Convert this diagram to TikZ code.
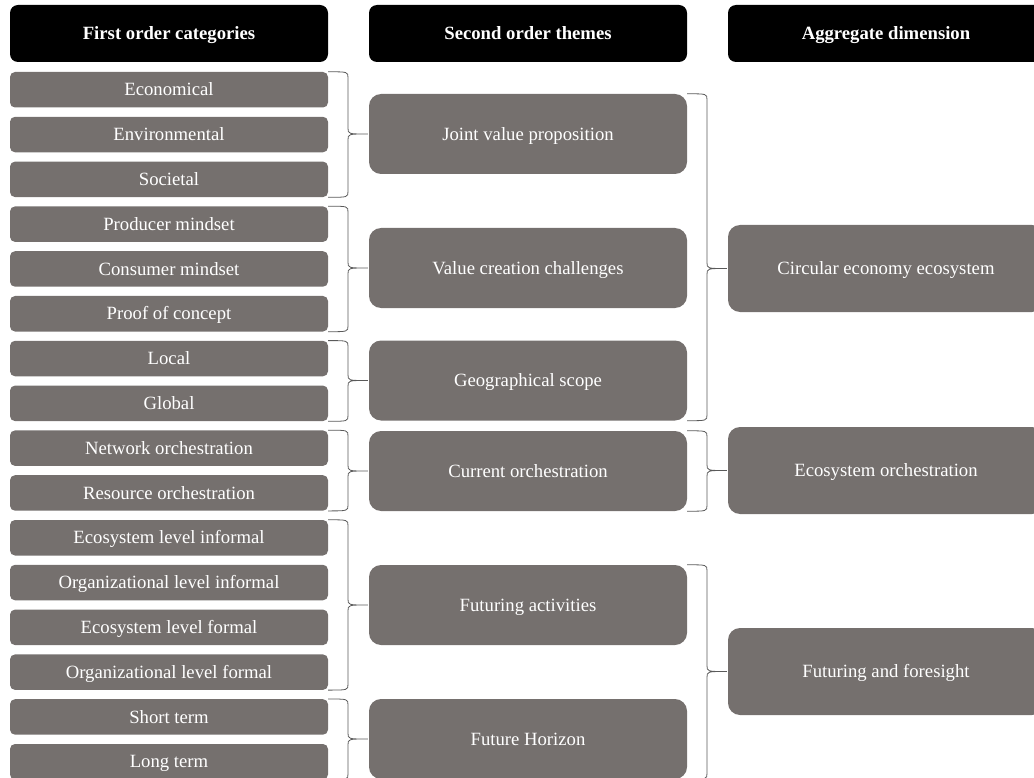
\documentclass[tikz,border=0pt]{standalone}
\usepackage{fontspec}
\setmainfont{Liberation Serif}
\usetikzlibrary{calc}
\definecolor{boxgray}{RGB}{117,112,110}
\definecolor{bracegray}{RGB}{90,90,90}
\tikzset{
  label text/.style={font=\fontsize{18.7}{22}\selectfont, text height=12.4pt, text depth=0pt},
  header/.style={label text, fill=black, text=white, rounded corners=8pt, minimum height=57pt,
    inner sep=0pt, font=\fontsize{18.7}{22}\selectfont\bfseries},
  catbox/.style={label text, fill=boxgray, text=white, rounded corners=5pt, minimum width=318pt,
    minimum height=35.5pt, inner sep=0pt},
  themebox/.style={label text, fill=boxgray, text=white, rounded corners=12pt, minimum width=318pt,
    minimum height=80pt, inner sep=0pt},
  dimbox/.style={label text, fill=boxgray, text=white, rounded corners=12pt, minimum width=316pt,
    minimum height=87pt, inner sep=0pt},
  brc/.style={draw=bracegray, line width=0.8pt},
}
% right curly brace spanning #1 (top) to #2 (bottom), pointing at #3
\newcommand\bracelink[3]{%
  \draw[brc] let \p1=(#1.north east), \p2=(#2.south east), \p3=($(#3.west)+(-1pt,0)$),
    \p4=($(\p1)!.5!(\p3)$) in
    (\p1) .. controls (\x4,\y1) .. (\x4,\y1-6pt) -- (\x4,\y3+6pt)
    .. controls (\x4,\y3) .. (\x3,\y3)
    .. controls (\x4,\y3) .. (\x4,\y3-6pt) -- (\x4,\y2+6pt)
    .. controls (\x4,\y2) .. (\p2);}
\begin{document}
\begin{tikzpicture}[x=1pt,y=-1pt]
\useasboundingbox (0,0) rectangle (1034,778);
\clip (0,0) rectangle (1034,778);

% column headings
\node[header, minimum width=318pt] (h1) at (169,33.5) {First order categories};
\node[header, minimum width=318pt] (h2) at (528,33.5) {Second order themes};
\node[header, minimum width=316pt] (h3) at (886,33.5) {Aggregate dimension};

% first order categories
\node[catbox] (c1)  at (169,89.75)  {Economical};
\node[catbox] (c2)  at (169,134.55) {Environmental};
\node[catbox] (c3)  at (169,179.35) {Societal};
\node[catbox] (c4)  at (169,224.15) {Producer mindset};
\node[catbox] (c5)  at (169,268.95) {Consumer mindset};
\node[catbox] (c6)  at (169,313.75) {Proof of concept};
\node[catbox] (c7)  at (169,358.55) {Local};
\node[catbox] (c8)  at (169,403.35) {Global};
\node[catbox] (c9)  at (169,448.15) {Network orchestration};
\node[catbox] (c10) at (169,492.95) {Resource orchestration};
\node[catbox] (c11) at (169,537.75) {Ecosystem level informal};
\node[catbox] (c12) at (169,582.55) {Organizational level informal};
\node[catbox] (c13) at (169,627.35) {Ecosystem level formal};
\node[catbox] (c14) at (169,672.15) {Organizational level formal};
\node[catbox] (c15) at (169,716.95) {Short term};
\node[catbox] (c16) at (169,761.75) {Long term};

% second order themes
\node[themebox] (t1) at (528,134)   {Joint value proposition};
\node[themebox] (t2) at (528,268)   {Value creation challenges};
\node[themebox] (t3) at (528,380.5) {Geographical scope};
\node[themebox] (t4) at (528,471)   {Current orchestration};
\node[themebox] (t5) at (528,605)   {Futuring activities};
\node[themebox] (t6) at (528,739)   {Future Horizon};

% aggregate dimensions
\node[dimbox] (d1) at (886,268.5) {Circular economy ecosystem};
\node[dimbox] (d2) at (886,470.5) {Ecosystem orchestration};
\node[dimbox] (d3) at (886,671.5) {Futuring and foresight};

% braces: categories to themes
\bracelink{c1}{c3}{t1}
\bracelink{c4}{c6}{t2}
\bracelink{c7}{c8}{t3}
\bracelink{c9}{c10}{t4}
\bracelink{c11}{c14}{t5}
\bracelink{c15}{c16}{t6}

% braces: themes to dimensions
\bracelink{t1}{t3}{d1}
\bracelink{t4}{t4}{d2}
\bracelink{t5}{t6}{d3}
\end{tikzpicture}
\end{document}
